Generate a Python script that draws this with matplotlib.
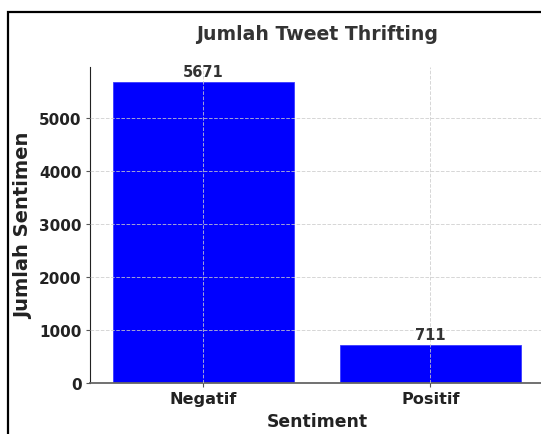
import matplotlib
matplotlib.use("Agg")
import matplotlib.pyplot as plt
from matplotlib.patches import Rectangle

categories = ["Negatif", "Positif"]
counts = [5671, 711]
title = "Jumlah Tweet Thrifting"
xlabel = "Sentiment"
ylabel = "Jumlah Sentimen"

plt.rcParams['font.family'] = ['DejaVu Sans']
W, H = 541, 435
fig = plt.figure(figsize=(W/100, H/100), dpi=100)

# outer frame (cropped screenshot border)
fig.patches.append(Rectangle((8/W, -0.1), 1.2, (H-13)/H + 0.1, transform=fig.transFigure,
                             fill=False, edgecolor='black', linewidth=1.6, zorder=0))

ax = fig.add_axes([90/W, (H-384)/H, (544-90)/W, (384-68)/H])
x = list(range(len(categories)))
bars = ax.bar(x, counts, width=0.8, color='#0000FF', edgecolor='#3a3aff', linewidth=0.6, zorder=2)
ax.set_xlim(-0.5, 1.5)
ax.set_ylim(0, max(counts) * 1.05)
ax.set_xticks(x)
ax.set_xticklabels(categories)
ax.set_yticks([0, 1000, 2000, 3000, 4000, 5000])

for b, v in zip(bars, counts):
    ax.text(b.get_x() + b.get_width()/2, v + 60, str(v), ha='center', va='bottom',
            fontsize=10.5, fontweight='bold', color='#333333')

ax.set_title(title, fontsize=13.6, fontweight='bold', color='#333333', pad=20)
ax.set_xlabel(xlabel, fontsize=12.4, fontweight='bold', color='#222222', labelpad=4)
ax.set_ylabel(ylabel, fontsize=14, fontweight='bold', color='#222222', labelpad=4)

for lbl in ax.get_yticklabels():
    lbl.set_fontweight('bold')
    lbl.set_fontsize(11)
    lbl.set_color('#222222')
for lbl in ax.get_xticklabels():
    lbl.set_fontweight('bold')
    lbl.set_fontsize(11.6)
    lbl.set_color('#222222')

ax.grid(True, linestyle='--', linewidth=0.7, color='#cccccc', alpha=0.8, zorder=3)
ax.set_axisbelow(False)
for s in ['top', 'right']:
    ax.spines[s].set_visible(False)
ax.spines['left'].set_color('#222222')
ax.spines['bottom'].set_color('#666666')
ax.spines['bottom'].set_linewidth(1.3)
ax.tick_params(axis='both', length=3, color='#555555', pad=3)

fig.savefig("out.png", dpi=100)
